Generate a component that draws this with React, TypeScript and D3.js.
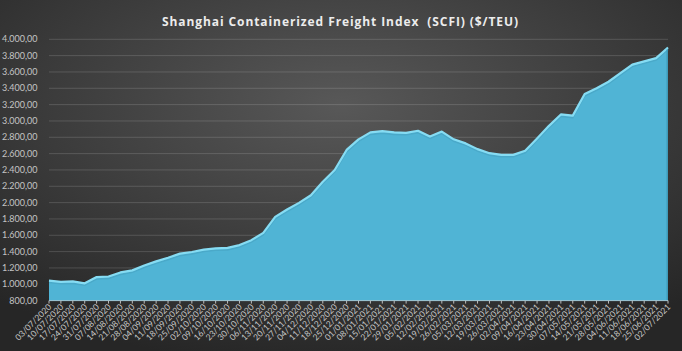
import React, { useEffect, useRef } from 'react';
import * as d3 from 'd3';

const dates = [
  '03/07/2020', '10/07/2020', '17/07/2020', '24/07/2020', '31/07/2020', '07/08/2020', '14/08/2020',
  '21/08/2020', '28/08/2020', '04/09/2020', '11/09/2020', '18/09/2020', '25/09/2020', '02/10/2020',
  '09/10/2020', '16/10/2020', '23/10/2020', '30/10/2020', '06/11/2020', '13/11/2020', '20/11/2020',
  '27/11/2020', '04/12/2020', '11/12/2020', '18/12/2020', '25/12/2020', '01/01/2021', '08/01/2021',
  '15/01/2021', '22/01/2021', '29/01/2021', '05/02/2021', '12/02/2021', '19/02/2021', '26/02/2021',
  '05/03/2021', '12/03/2021', '19/03/2021', '26/03/2021', '02/04/2021', '09/04/2021', '16/04/2021',
  '23/04/2021', '30/04/2021', '07/05/2021', '14/05/2021', '21/05/2021', '28/05/2021', '04/06/2021',
  '11/06/2021', '18/06/2021', '25/06/2021', '02/07/2021',
];

const scfi = [
  1045, 1030, 1035, 1012, 1088, 1095, 1145, 1170, 1230, 1280, 1325, 1375, 1395, 1425,
  1440, 1445, 1480, 1540, 1630, 1825, 1915, 1997, 2090, 2255, 2400, 2645, 2775, 2860,
  2875, 2860, 2855, 2880, 2810, 2870, 2775, 2725, 2655, 2605, 2585, 2585, 2635, 2785,
  2940, 3080, 3065, 3330, 3400, 3480, 3585, 3690, 3730, 3770, 3900,
];

const yTicks = [800, 1000, 1200, 1400, 1600, 1800, 2000, 2200, 2400, 2600, 2800, 3000, 3200, 3400, 3600, 3800, 4000];

const title = 'Shanghai Containerized Freight Index  (SCFI) ($/TEU)';

function fmt(v: number) {
  // 4000 -> 4.000,00
  const s = Math.round(v).toString();
  const withDots = s.replace(/\B(?=(\d{3})+(?!\d))/g, '.');
  return withDots + ',00';
}

function App() {
  const ref = useRef<SVGSVGElement | null>(null);
  const width = 682;
  const height = 351;
  const margin = { left: 49, right: 14, top: 39.3, bottom: 50.4 };

  useEffect(() => {
    const svg = d3.select(ref.current);
    svg.selectAll('*').remove();

    const defs = svg.append('defs');
    const bg = defs.append('radialGradient')
      .attr('id', 'bg')
      .attr('cx', '0.5').attr('cy', '0.3').attr('r', '0.75');
    bg.append('stop').attr('offset', '0%').attr('stop-color', '#585858');
    bg.append('stop').attr('offset', '100%').attr('stop-color', '#262626');

    svg.append('rect')
      .attr('width', width).attr('height', height)
      .attr('fill', 'url(#bg)');

    const x = d3.scalePoint<string>()
      .domain(dates)
      .range([margin.left, width - margin.right]);

    const y = d3.scaleLinear()
      .domain([800, 4000])
      .range([height - margin.bottom, margin.top]);

    // gridlines
    svg.append('g')
      .selectAll('line')
      .data(yTicks.slice(1))
      .enter()
      .append('line')
      .attr('x1', margin.left).attr('x2', width - margin.right)
      .attr('y1', d => y(d)).attr('y2', d => y(d))
      .attr('stroke', 'rgba(255,255,255,0.15)')
      .attr('stroke-width', 1);

    // y labels
    svg.append('g')
      .selectAll('text')
      .data(yTicks)
      .enter()
      .append('text')
      .attr('x', 37.5)
      .attr('y', d => y(d))
      .attr('dy', '0.35em')
      .attr('text-anchor', 'end')
      .style('font-family', 'Lato, sans-serif')
      .style('font-size', '9px')
      .style('fill', '#c4c4c4')
      .text(d => fmt(d));

    const area = d3.area<number>()
      .x((d, i) => x(dates[i]) as number)
      .y0(y(800))
      .y1(d => y(d));

    const line = d3.line<number>()
      .x((d, i) => x(dates[i]) as number)
      .y(d => y(d));

    svg.append('path')
      .datum(scfi)
      .attr('d', area)
      .attr('fill', '#50b4d5');

    // bevel shadow under the top edge
    svg.append('path')
      .datum(scfi)
      .attr('d', line)
      .attr('transform', 'translate(0,2)')
      .attr('fill', 'none')
      .attr('stroke', '#4aa9c9')
      .attr('stroke-width', 1.5);

    svg.append('path')
      .datum(scfi)
      .attr('d', line)
      .attr('fill', 'none')
      .attr('stroke', '#86dcf3')
      .attr('stroke-width', 2.2)
      .attr('stroke-linejoin', 'round');

    // right edge shade
    svg.append('line')
      .attr('x1', width - margin.right - 0.75).attr('x2', width - margin.right - 0.75)
      .attr('y1', y(scfi[scfi.length - 1]) + 2).attr('y2', y(800))
      .attr('stroke', '#3f9bba')
      .attr('stroke-width', 1.5);

    // x axis
    const baseY = y(800);
    svg.append('line')
      .attr('x1', margin.left).attr('x2', width - margin.right)
      .attr('y1', baseY).attr('y2', baseY)
      .attr('stroke', '#9fc9d8')
      .attr('stroke-width', 1);

    svg.append('g')
      .selectAll('line')
      .data(dates)
      .enter()
      .append('line')
      .attr('x1', d => x(d) as number).attr('x2', d => x(d) as number)
      .attr('y1', baseY).attr('y2', baseY + 3)
      .attr('stroke', '#bdbdbd')
      .attr('stroke-width', 1);

    svg.append('g')
      .selectAll('text')
      .data(dates)
      .enter()
      .append('text')
      .attr('text-anchor', 'end')
      .attr('transform', d => `translate(${(x(d) as number) + 3}, ${baseY + 7}) rotate(-45)`)
      .style('font-family', 'Lato, sans-serif')
      .style('font-size', '8.5px')
      .style('fill', '#c8c8c8')
      .text(d => d);

    // title (keeps the double space)
    svg.append('text')
      .attr('x', 340)
      .attr('y', 26)
      .attr('text-anchor', 'middle')
      .attr('textLength', 356)
      .attr('lengthAdjust', 'spacing')
      .style('white-space', 'pre')
      .style('font-family', '"Open Sans", sans-serif')
      .style('font-weight', 'bold')
      .style('font-size', '12px')
      .style('fill', '#ececec')
      .text(title);
  });

  return (
    <svg
      ref={ref}
      width={width}
      height={height}
      style={{ position: 'absolute', left: 0, top: 0, display: 'block' }}
    />
  );
}

export default App;
